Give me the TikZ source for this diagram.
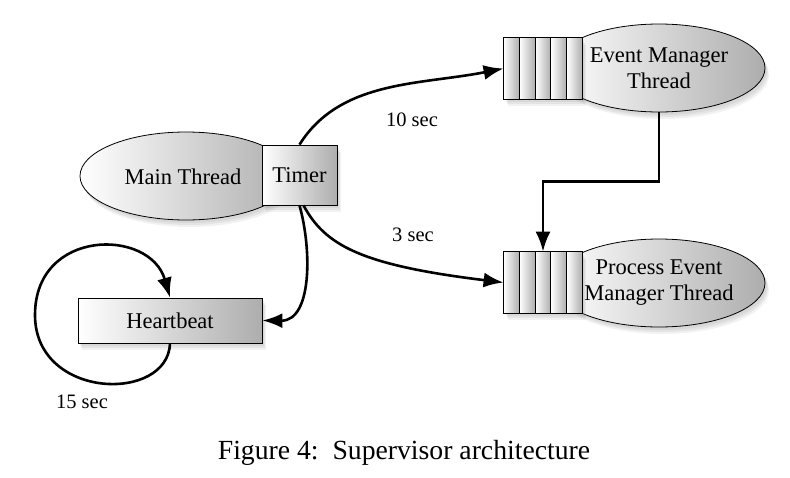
\documentclass[tikz,border=0pt]{standalone}
\usepackage{fontspec}
\setmainfont{Liberation Serif}
\usetikzlibrary{calc, shapes.geometric, shadows, arrows.meta}

\begin{document}
\begin{tikzpicture}[x=1pt,y=-1pt,
  soft/.style={drop shadow={opacity=.12,shadow xshift=2pt,shadow yshift=-3pt},
    drop shadow={opacity=.12,shadow xshift=3pt,shadow yshift=-5pt},
    drop shadow={opacity=.10,shadow xshift=4pt,shadow yshift=-7pt}},
  shade/.style={left color=white,right color=black!32},
  blob/.style={ellipse,draw,thick,soft,shade,minimum width=212pt,minimum height=88pt,
    inner sep=0pt,align=center,font=\fontsize{22.5}{26}\selectfont},
  tbox/.style={rectangle,draw,thick,soft,shade,inner sep=0pt,font=\fontsize{22.5}{26}\selectfont},
  queue/.style={rectangle,draw,thick,soft,fill=white,minimum width=78pt,minimum height=61pt,inner sep=0pt},
  arr/.style={line width=2.6pt,-{Latex[length=20pt,width=15pt]}},
  lbl/.style={font=\fontsize{20.5}{24}\selectfont}]
\useasboundingbox (0,0) rectangle (790,477);
% Main thread with its timer
\node[blob] (main) at (186,176) {};
\node[font=\fontsize{22.5}{26}\selectfont] (maintxt) at (183,177) {Main Thread};
\node[tbox,minimum width=75pt,minimum height=60pt] (timer) at (299.5,175) {Timer};
% Heartbeat
\node[tbox,minimum width=184pt,minimum height=45pt] (hb) at (170,320.5) {Heartbeat};
% Event manager thread with its queue
\node[blob] (em) at (659,68) {Event Manager\\Thread};
\node[queue] (emq) at (543,68.5) {};
\foreach \i in {0,...,4}
  \draw[thick,shade] ($(emq.north west)!\i/5!(emq.north east)$) rectangle ($(emq.south west)!\i/5+1/5!(emq.south east)$);
% Process event manager thread with its queue
\node[blob] (pem) at (659,283) {Process Event\\Manager Thread};
\node[queue] (peq) at (543,282.5) {};
\foreach \i in {0,...,4}
  \draw[thick,shade] ($(peq.north west)!\i/5!(peq.north east)$) rectangle ($(peq.south west)!\i/5+1/5!(peq.south east)$);
% Timer connections
\draw[arr] (timer.north) .. controls (340,80) and (420,85) .. (emq.west);
\node[lbl] (ten) at (412,120) {10 sec};
\draw[arr] ([xshift=4pt]timer.south) .. controls (325,245) and (360,265) .. (peq.west);
\node[lbl] (three) at (413,235) {3 sec};
\draw[arr] (timer.south) .. controls (312,250) and (312,321) .. (hb.east);
% Event manager feeds process event manager
\draw[arr] (em.south) |- ([yshift=70pt]peq.north) -- (peq.north);
% Heartbeat loop
\coordinate (loop) at (35,315);
\draw[arr] (hb.south) .. controls (168,403) and (35,400) .. (loop)
  .. controls (35,228) and (150,228) .. (hb.north);
\node[lbl] (fifteen) at (82,402) {15 sec};
% Caption
\node[font=\fontsize{27.7}{31}\selectfont] (cap) at (404,453) {Figure 4:\ \ Supervisor architecture};
\end{tikzpicture}
\end{document}
